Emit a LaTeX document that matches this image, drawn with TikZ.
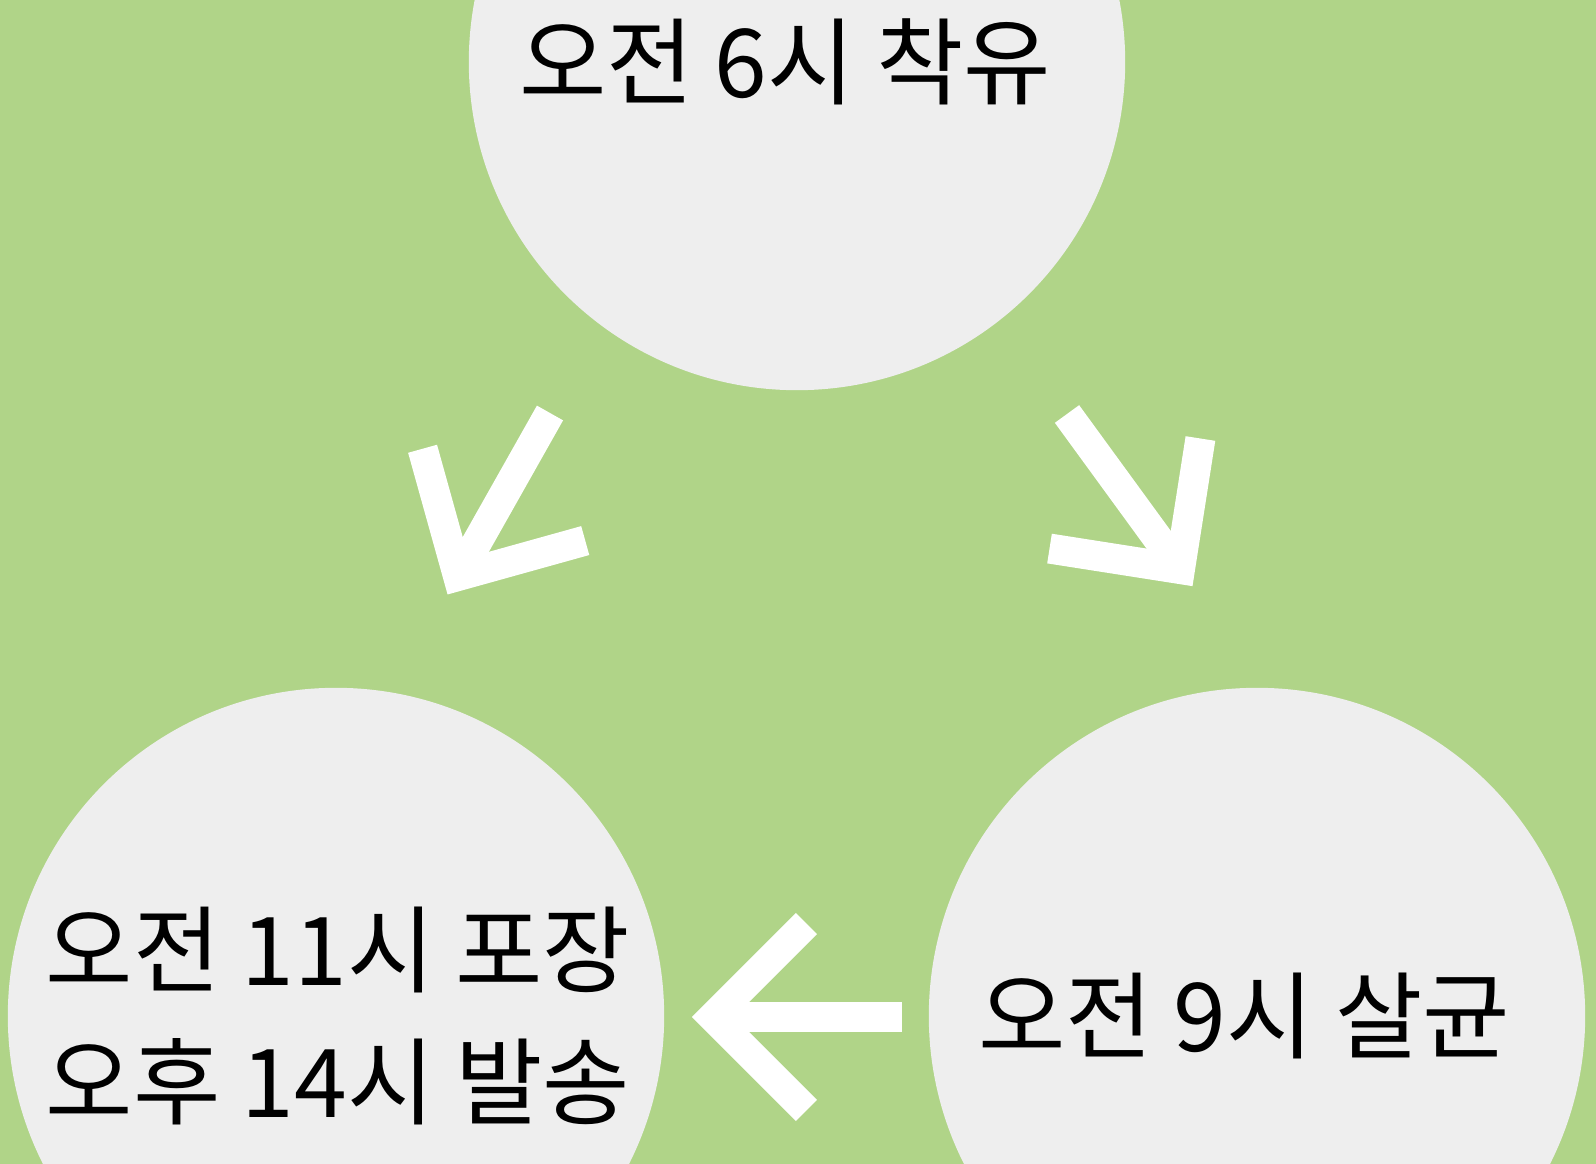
\documentclass[tikz,border=0pt]{standalone}
\usepackage{fontspec}
\setmainfont{Noto Sans CJK KR}
\usepackage{tikz}
\usetikzlibrary{calc}
\definecolor{leaf}{RGB}{176,212,136}
\definecolor{disc}{RGB}{238,238,238}
\def\drawarrow{\draw[color=white, line width=0.3cm]}
\def\stepnode{\node[circle,fill=disc,minimum size=6.56cm,inner sep=0pt]}
\def\textnode{\node[align=center,inner sep=0pt,font=\fontsize{27}{37.5}\selectfont]}

\begin{document}
\begin{tikzpicture}[x=0.01cm,y=-0.01cm]
\fill[leaf] (0,0) rectangle (1596,1164);
\useasboundingbox (0,0) rectangle (1596,1164);
\clip (0,0) rectangle (1596,1164);

% ---------- the three steps of the day
\stepnode (milk) at (797,62) {};
\stepnode (sterile) at (1257,1016) {};
\stepnode (pack) at (336,1016) {};
\textnode (milk_text) at ($ (milk) + (-12,0) $) {오전 6시 착유};
\textnode (sterile_text) at ($ (sterile) + (-13,0) $) {오전 9시 살균};
\textnode (pack_text) at ($ (pack) + (2,0) $) {오전 11시 포장\\오후 14시 발송};

% ---------- arrows between the steps
\coordinate (down_left_tail) at (550,413);
\coordinate (down_left_tip) at (458,576); % outer corner sits a bit further
\coordinate (down_right_tail) at (1067,414);
\coordinate (down_right_tip) at (1180,569);
\coordinate (back_tail) at (902,1017);
\coordinate (back_tip) at (713,1017);

\drawarrow (down_left_tail) -- (down_left_tip);
\drawarrow ($(down_left_tip)!1.32cm!45:(down_left_tail)$) -- (down_left_tip) -- ($(down_left_tip)!1.32cm!-45:(down_left_tail)$);

\drawarrow (down_right_tail) -- (down_right_tip);
\drawarrow ($(down_right_tip)!1.32cm!45:(down_right_tail)$) -- (down_right_tip) -- ($(down_right_tip)!1.32cm!-45:(down_right_tail)$);

\drawarrow (back_tail) -- (back_tip);
\drawarrow ($(back_tip)!1.32cm!45:(back_tail)$) -- (back_tip) -- ($(back_tip)!1.32cm!-45:(back_tail)$);
\end{tikzpicture}
\end{document}
